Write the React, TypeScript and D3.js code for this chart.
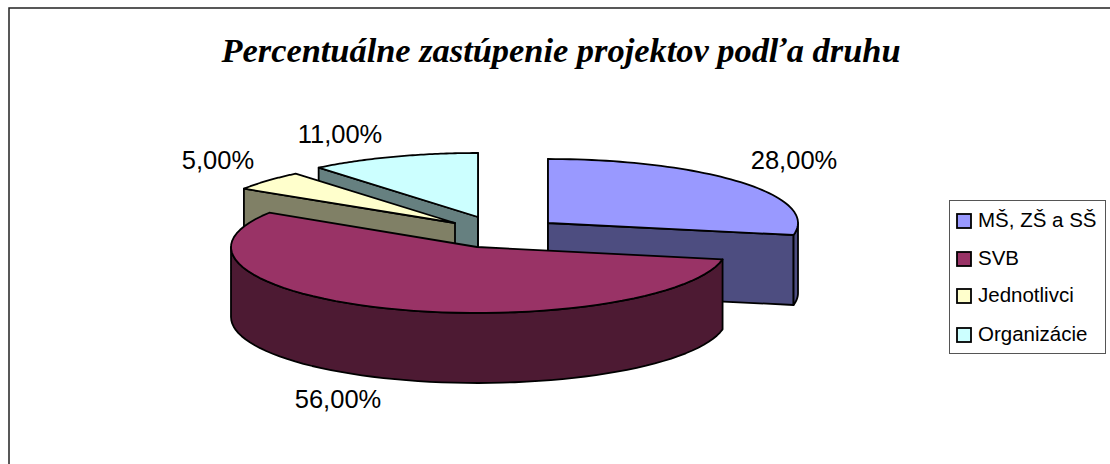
import React from "react";
import * as d3 from "d3";

const categories = ["MŠ, ZŠ a SŠ", "SVB", "Jednotlivci", "Organizácie"];
const values = [28, 56, 5, 11];
const labels = ["28,00%", "56,00%", "5,00%", "11,00%"];
const topColors = ["#9999FF", "#993366", "#FFFFCC", "#CCFFFF"];
const wallColors = ["#4D4D80", "#4D1A33", "#808066", "#668080"];
const apexes: [number, number][] = [[548, 223], [477, 247], [455, 223], [478, 217]];
const labelPos: [number, number][] = [[794, 169], [338, 408], [218, 169], [340, 143]];
const RX = 250, RY = 64, DEPTH = 70;
const drawOrder = [3, 2, 0, 1];
const legendY = [221, 259, 296, 335];

const pieGen = d3.pie<number>().sort(null).value((d) => d);
const arcs = pieGen(values);
const line = d3.line();

function pt(i: number, a: number): [number, number] {
  const [cx, cy] = apexes[i];
  const rx = i === 1 && Math.sin(a) < 0 ? RX - 4 : RX;
  const ry = i === 1 && Math.cos(a) < 0 ? RY + 2 : RY;
  return [cx + rx * Math.sin(a), cy - ry * Math.cos(a)];
}
function arcPts(i: number, a0: number, a1: number): [number, number][] {
  return d3.range(0, 61).map((k) => pt(i, a0 + ((a1 - a0) * k) / 60));
}
const down = (p: [number, number]): [number, number] => [p[0], p[1] + DEPTH];

function Slice({ i }: { i: number }) {
  const { startAngle: s, endAngle: e } = arcs[i];
  const apex = apexes[i];
  const top = line([apex, ...arcPts(i, s, e)])! + "Z";
  const faces: [number, number][][] = [];
  const startP = pt(i, s);
  const endP = pt(i, e);
  // a cut face shows only when it turns towards the viewer
  if (Math.sin(s) <= 1e-9) faces.push([apex, startP, down(startP), down(apex)]);
  if (Math.sin(e) >= -1e-9) faces.push([apex, endP, down(endP), down(apex)]);
  // outer wall: the front half of the rim only
  const w0 = Math.max(s, Math.PI / 2);
  const w1 = Math.min(e, (3 * Math.PI) / 2);
  if (w1 > w0) {
    const rim = arcPts(i, w0, w1);
    faces.push([...rim, ...rim.slice().reverse().map(down)]);
  }
  return (
    <g stroke="#000" strokeWidth={1.8} strokeLinejoin="round">
      {faces.map((f, k) => (
        <path key={k} d={line(f)! + "Z"} fill={wallColors[i]} />
      ))}
      <path d={top} fill={topColors[i]} />
    </g>
  );
}

export default function App() {
  return (
    <svg
      width={1110}
      height={464}
      style={{ position: "absolute", left: 0, top: 0, background: "#fff" }}
    >
      <rect x={9} y={8} width={1200} height={600} fill="#fff" stroke="#222" strokeWidth={1.5} />
      <text
        x={561}
        y={62}
        textAnchor="middle"
        fontFamily="Liberation Serif"
        fontStyle="italic"
        fontWeight="bold"
        fontSize={34.4}
      >
        Percentuálne zastúpenie projektov podľa druhu
      </text>
      {drawOrder.map((i) => (
        <Slice key={i} i={i} />
      ))}
      {labels.map((t, i) => (
        <text
          key={t}
          x={labelPos[i][0]}
          y={labelPos[i][1]}
          textAnchor="middle"
          fontFamily="Liberation Sans"
          fontSize={25.5}
        >
          {t}
        </text>
      ))}
      <rect x={949.5} y={200.5} width={156} height={153} fill="#fff" stroke="#555" />
      {categories.map((c, i) => (
        <g key={c}>
          <rect
            x={957}
            y={legendY[i] - 7}
            width={14}
            height={14}
            fill={topColors[i]}
            stroke="#000"
            strokeWidth={1.8}
          />
          <text x={978} y={legendY[i] + 6} fontFamily="Liberation Sans" fontSize={20.5}>
            {c}
          </text>
        </g>
      ))}
    </svg>
  );
}
